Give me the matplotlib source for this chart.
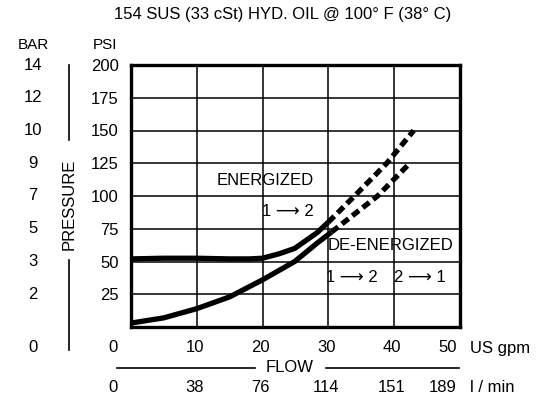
import matplotlib
matplotlib.use("Agg")
import matplotlib.pyplot as plt
from matplotlib.transforms import blended_transform_factory

plt.rcParams['font.family'] = ['Liberation Sans', 'DejaVu Sans']

# Curve data (flow in US gpm, pressure in psi)
energized_gpm = [0, 5, 10, 15, 18, 20, 22.6, 24.9, 28.3, 30]
energized_psi = [52, 52.5, 52.5, 52, 52, 52.5, 56, 60, 72, 80]
energized_ext_gpm = [30, 34, 38.9, 43]
energized_ext_psi = [80, 100, 125, 150]

deenergized_gpm = [0, 5, 10, 15, 20, 24.9, 28.3, 30.5]
deenergized_psi = [3, 7, 14, 23, 36, 50, 64, 72.5]
deenergized_ext_gpm = [30.5, 37.5, 42.4]
deenergized_ext_psi = [72.5, 100, 125]

psi_ticks = [25, 50, 75, 100, 125, 150, 175, 200]
bar_labels = ["2", "3", "5", "7", "9", "10", "12", "14"]
gpm_ticks = [10, 20, 30, 40, 50]
gpm_labels = ["10", "20", "30", "40", "50"]
lpm_labels = ["38", "76", "114", "151", "189"]

FS = 12

fig = plt.figure(figsize=(5.46, 4.0), dpi=100)
ax = fig.add_axes([0.240, 0.1825, 0.602, 0.655])

# Curves
ax.plot(energized_gpm, energized_psi, color="black", lw=3.8, solid_capstyle="butt")
ax.plot(energized_ext_gpm, energized_ext_psi, color="black", lw=3.8,
        dashes=(1.6, 0.9))
ax.plot(deenergized_gpm, deenergized_psi, color="black", lw=3.8, solid_capstyle="butt")
ax.plot(deenergized_ext_gpm, deenergized_ext_psi, color="black", lw=3.8,
        dashes=(1.6, 0.9))

# Axes / grid
ax.set_xlim(0, 50)
ax.set_ylim(0, 200)
ax.set_xticks(gpm_ticks)
ax.set_yticks(psi_ticks)
ax.grid(True, color="black", lw=1.1)
ax.tick_params(length=0, labelsize=FS, pad=9)
ax.tick_params(axis="x", labelbottom=False)
for sp in ax.spines.values():
    sp.set_linewidth(2.4)

fig_x = blended_transform_factory(fig.transFigure, ax.transData)
fig_y = blended_transform_factory(ax.transData, fig.transFigure)

# Title and unit headers
fig.text(283 / 546, 1 - 15 / 400, "154 SUS (33 cSt) HYD. OIL @ 100\u00b0 F (38\u00b0 C)",
         ha="center", va="center", fontsize=FS)
fig.text(33 / 546, 1 - 45 / 400, "BAR", ha="center", va="center", fontsize=FS - 1)
fig.text(105 / 546, 1 - 45 / 400, "PSI", ha="center", va="center", fontsize=FS - 1)

# BAR column
for p, b in zip(psi_ticks, bar_labels):
    ax.text(33 / 546, p, b, transform=fig_x, ha="center", va="center", fontsize=FS)

# zero labels at the corner
fig.text(33 / 546, 1 - 348 / 400, "0", ha="center", va="center", fontsize=FS)
fig.text(113 / 546, 1 - 348 / 400, "0", ha="center", va="center", fontsize=FS)
fig.text(113 / 546, 1 - 388 / 400, "0", ha="center", va="center", fontsize=FS)

# PRESSURE label with lines
fig.text(69 / 546, 1 - 204 / 400, "PRESSURE", rotation=90, ha="center", va="center",
         fontsize=FS)
fig.add_artist(plt.Line2D([69 / 546, 69 / 546], [1 - 65 / 400, 1 - 140 / 400],
                          color="black", lw=1.2))
fig.add_artist(plt.Line2D([69 / 546, 69 / 546], [1 - 260 / 400, 1 - 350 / 400],
                          color="black", lw=1.2))

# FLOW label with lines
fig.text(290 / 546, 1 - 368 / 400, "FLOW", ha="center", va="center", fontsize=FS)
fig.add_artist(plt.Line2D([117 / 546, 255 / 546], [1 - 368 / 400] * 2,
                          color="black", lw=1.2))
fig.add_artist(plt.Line2D([326 / 546, 459 / 546], [1 - 368 / 400] * 2,
                          color="black", lw=1.2))

# US gpm and l/min rows
for i, (g, gl, ll) in enumerate(zip(gpm_ticks, gpm_labels, lpm_labels)):
    last = i == len(gpm_ticks) - 1
    ha = "right" if last else "center"
    xx = g - 0.45 if last else g - 0.3
    ax.text(xx, 1 - 348 / 400, gl, transform=fig_y, ha=ha, va="center", fontsize=FS)
    ax.text(xx, 1 - 388 / 400, ll, transform=fig_y, ha=ha, va="center", fontsize=FS)
fig.text(470 / 546, 1 - 348 / 400, "US gpm", ha="left", va="center", fontsize=FS)
fig.text(470 / 546, 1 - 388 / 400, "l / min", ha="left", va="center", fontsize=FS)

# Annotations
ax.text(20.4, 112, "ENERGIZED", ha="center", va="center", fontsize=FS)
ax.text(23.8, 88, "1 \u27f6 2", ha="center", va="center", fontsize=FS)
ax.text(39.4, 62, "DE-ENERGIZED", ha="center", va="center", fontsize=FS)
ax.text(33.6, 38, "1 \u27f6 2", ha="center", va="center", fontsize=FS)
ax.text(43.9, 38, "2 \u27f6 1", ha="center", va="center", fontsize=FS)

fig.savefig("out.png", dpi=100)
